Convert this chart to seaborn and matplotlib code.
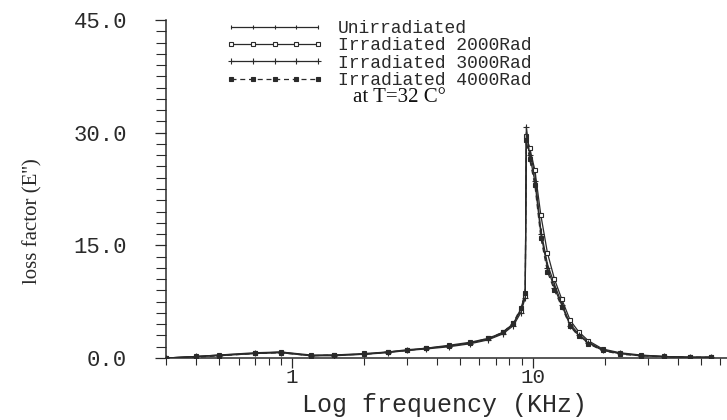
import numpy as np
import pandas as pd
import seaborn as sns
import matplotlib
matplotlib.use("Agg")
import matplotlib.pyplot as plt
from matplotlib.ticker import FixedLocator, MultipleLocator, NullFormatter, LogLocator

sns.set_theme(style="white")
plt.rcParams['font.family'] = ['Liberation Mono', 'DejaVu Sans']

# ---- data ----
freq = [0.3, 0.4, 0.5, 0.7, 0.9, 1.2, 1.5, 2.0, 2.5, 3.0, 3.6, 4.5, 5.5, 6.5,
        7.5, 8.3, 8.9, 9.3, 9.4, 9.7, 10.2, 10.8, 11.5, 12.3, 13.2, 14.3,
        15.5, 17.0, 19.5, 23.0, 28.0, 35.0, 45.0, 55.0]
unirr = [0.0, 0.2, 0.4, 0.7, 0.8, 0.3, 0.4, 0.5, 0.8, 1.0, 1.3, 1.6, 2.0, 2.5,
         3.3, 4.5, 6.5, 8.5, 30.0, 27.5, 24.5, 17.0, 12.5, 9.8, 7.2, 4.5,
         3.2, 2.1, 1.1, 0.6, 0.35, 0.2, 0.1, 0.1]
rad2000 = [0.0, 0.2, 0.4, 0.6, 0.8, 0.4, 0.4, 0.6, 0.8, 1.1, 1.3, 1.7, 2.1, 2.6,
           3.4, 4.6, 6.3, 8.2, 29.5, 28.0, 25.0, 19.0, 14.0, 10.5, 7.8, 5.0,
           3.5, 2.3, 1.2, 0.7, 0.4, 0.2, 0.1, 0.1]
rad3000 = [0.0, 0.2, 0.3, 0.6, 0.7, 0.3, 0.3, 0.5, 0.7, 1.0, 1.2, 1.5, 1.9, 2.4,
           3.2, 4.3, 6.0, 8.0, 30.8, 27.0, 23.5, 16.5, 12.0, 9.3, 7.0, 4.3,
           3.0, 2.0, 1.0, 0.6, 0.3, 0.2, 0.1, 0.1]
rad4000 = [0.0, 0.1, 0.3, 0.6, 0.7, 0.3, 0.4, 0.5, 0.8, 1.0, 1.3, 1.6, 2.0, 2.6,
           3.4, 4.7, 6.6, 8.6, 29.0, 26.5, 23.0, 16.0, 11.5, 9.0, 6.8, 4.2,
           2.9, 1.9, 1.0, 0.5, 0.3, 0.15, 0.1, 0.1]
series_labels = ['Unirradiated', 'Irradiated 2000Rad',
                 'Irradiated 3000Rad', 'Irradiated 4000Rad']
x_ticks = [1, 10]
x_tick_labels = ['1', '10']
y_ticks = [0, 15, 30, 45]
y_tick_labels = ['0.0', '15.0', '30.0', '45.0']

ink = '#2a2a2a'

fig = plt.figure(figsize=(7.27, 4.2), dpi=100)
ax = fig.add_axes([166/727, 62/420, 561/727, 338/420])

styles = [
    dict(marker='|', markersize=3, linestyle='-', mfc=ink, mec=ink),
    dict(marker='s', markersize=3.5, linestyle='-', mfc='white', mec=ink, mew=0.8),
    dict(marker='+', markersize=5, linestyle='-', mfc=ink, mec=ink, mew=0.8),
    dict(marker='s', markersize=3.5, linestyle=(0, (4, 3)), mfc=ink, mec=ink),
]
for vals, lab, st in zip([unirr, rad2000, rad3000, rad4000], series_labels, styles):
    df = pd.DataFrame({'f': freq, 'e': vals})
    sns.lineplot(data=df, x='f', y='e', ax=ax, color=ink, linewidth=0.9,
                 label=lab, marker=st['marker'], markersize=st['markersize'],
                 linestyle=st['linestyle'], markerfacecolor=st['mfc'],
                 markeredgecolor=st['mec'], markeredgewidth=st.get('mew', 0.8),
                 estimator=None, sort=False)

ax.set_xscale('log')
ax.set_xlim(0.3, 64)
ax.set_ylim(0, 45)

for s in ['top', 'right']:
    ax.spines[s].set_visible(False)
for s in ['left', 'bottom']:
    ax.spines[s].set_color(ink)
    ax.spines[s].set_linewidth(1.1)

ax.xaxis.set_major_locator(FixedLocator(x_ticks))
ax.set_xticklabels(x_tick_labels)
ax.xaxis.set_minor_locator(LogLocator(base=10, subs=np.arange(2, 10)))
ax.xaxis.set_minor_formatter(NullFormatter())
ax.yaxis.set_major_locator(FixedLocator(y_ticks))
ax.set_yticklabels(y_tick_labels)
ax.yaxis.set_minor_locator(MultipleLocator(1.5))

ax.tick_params(axis='x', which='major', direction='out', length=7, width=0.9,
               color=ink, labelcolor=ink, labelsize=15, pad=0, bottom=True)
ax.tick_params(axis='x', which='minor', direction='out', length=5, width=0.8,
               color=ink, bottom=True)
ax.tick_params(axis='y', which='major', direction='out', length=8, width=0.9,
               color=ink, labelcolor=ink, labelsize=16, pad=20, left=True)
ax.tick_params(axis='y', which='minor', direction='out', length=7, width=0.8,
               color=ink, left=True)

ax.set_xlabel('Log frequency (KHz)', fontsize=18, color=ink,
              family=['Liberation Mono', 'DejaVu Sans'])
ax.xaxis.set_label_coords(0.497, -0.103)
ax.set_ylabel("loss factor (E'')", fontsize=15, color=ink,
              family=['Liberation Serif', 'DejaVu Serif'])
ax.yaxis.set_label_coords(-0.22, 0.405)

handles, labels = ax.get_legend_handles_labels()
ax.legend(handles, labels, loc='upper left',
          bbox_to_anchor=((226 - 166) / 561, 1.0), frameon=False,
          prop={'family': 'Liberation Mono', 'size': 13},
          handlelength=5.4, handletextpad=0.8, labelspacing=0.02,
          numpoints=5, borderpad=0, borderaxespad=0, labelcolor=ink)

ax.text((353 - 166) / 561, (358 - 98) / 338, 'at T=32 C°', transform=ax.transAxes,
        fontsize=15, color='#111111', va='center', ha='left',
        family=['Liberation Serif', 'DejaVu Serif'])

fig.savefig('out.png', dpi=100, facecolor='white')
